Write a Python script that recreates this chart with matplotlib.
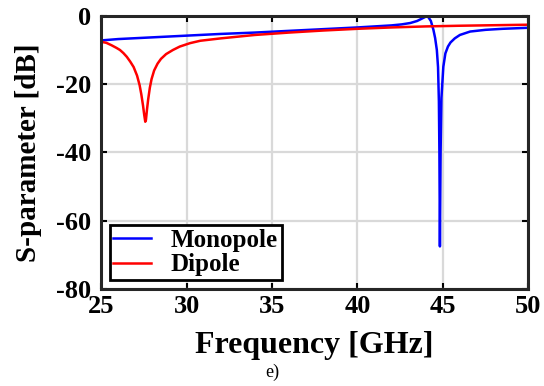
import numpy as np
import matplotlib.pyplot as plt

plt.rcParams['font.family'] = ['Liberation Serif', 'DejaVu Serif']
plt.rcParams['font.weight'] = 'bold'
plt.rcParams['axes.unicode_minus'] = False

## values
mono_f = [25.0, 26.0, 28.0, 30.0, 32.0, 34.0, 36.0, 38.0, 40.0, 41.0, 42.0, 42.6, 43.1,
          43.5, 43.7, 43.9, 44.1, 44.3, 44.45, 44.55, 44.65, 44.72, 44.77, 44.8, 44.83,
          44.87, 44.92, 45.03, 45.15, 45.3, 45.45, 45.7, 46.0, 46.6, 47.5, 48.5, 50.0]
mono_db = [-7.2, -6.8, -6.3, -5.8, -5.3, -4.9, -4.4, -3.9, -3.4, -3.1, -2.8, -2.5, -2.1,
           -1.5, -1.0, -0.5, 0.0, -1.5, -4.1, -6.5, -10.0, -15.0, -25.0, -40.0, -67.5,
           -40.0, -24.0, -14.9, -11.0, -9.0, -7.8, -6.6, -5.6, -4.6, -4.1, -3.8, -3.5]

dip_f = [25.0, 25.3, 25.6, 25.9, 26.1, 26.3, 26.5, 26.7, 26.9, 27.1, 27.25, 27.35,
         27.45, 27.52, 27.58, 27.62, 27.68, 27.75, 27.85, 27.95, 28.1, 28.3, 28.5,
         28.8, 29.2, 29.6, 30.2, 30.8, 32.0, 34.0, 36.0, 38.0, 40.0, 42.0, 44.0,
         46.0, 48.0, 50.0]
dip_db = [-7.6, -7.9, -8.6, -9.4, -10.0, -10.9, -12.0, -13.4, -15.0, -17.5, -20.3,
          -23.0, -26.3, -29.0, -31.0, -30.5, -27.5, -24.5, -21.0, -18.5, -16.0, -14.0,
          -12.6, -11.2, -10.0, -9.0, -8.0, -7.3, -6.6, -5.6, -4.9, -4.3, -3.8, -3.4,
          -3.1, -2.9, -2.75, -2.6]

xticks = [25, 30, 35, 40, 45, 50]
yticks = [0, -20, -40, -60, -80]

fig = plt.figure(figsize=(5.44, 3.86), dpi=100)
ax = fig.add_axes([0.186, 0.251, 0.785, 0.708])

ax.plot(mono_f, mono_db, color='#0000ff', lw=1.8, label='Monopole')
ax.plot(dip_f, dip_db, color='#ff0000', lw=1.8, label='Dipole')

ax.set_xlim(25, 50)
ax.set_ylim(-80, 0)
ax.set_xticks(xticks)
ax.set_yticks(yticks)
ax.grid(True, color='#d9d9d9', lw=1.6)
ax.set_axisbelow(True)
ax.tick_params(direction='in', length=4, width=1.5, labelsize=19, top=True, right=True)
ax.tick_params(axis='y', pad=7)
ax.tick_params(axis='x', pad=4)
for s in ax.spines.values():
    s.set_linewidth(2.2)
    s.set_color('#262626')

ax.set_xlabel('Frequency [GHz]', fontsize=23, fontweight='bold')
ax.xaxis.set_label_coords(0.5, -0.155)
ax.set_ylabel('S-parameter [dB]', fontsize=21, fontweight='bold')
ax.yaxis.set_label_coords(-0.138, 0.5)

leg = ax.legend(loc='lower left', fontsize=18, handlelength=1.5, borderpad=0.15,
                labelspacing=0.05, handletextpad=0.8, fancybox=False,
                bbox_to_anchor=(0.02, 0.033), borderaxespad=0)
leg.get_frame().set_edgecolor('black')
leg.get_frame().set_linewidth(2.0)
leg.get_frame().set_alpha(1)

fig.text(0.5, 0.012, 'e)', ha='center', va='bottom', fontsize=13, fontweight='normal')

fig.savefig('out.png', dpi=100)
